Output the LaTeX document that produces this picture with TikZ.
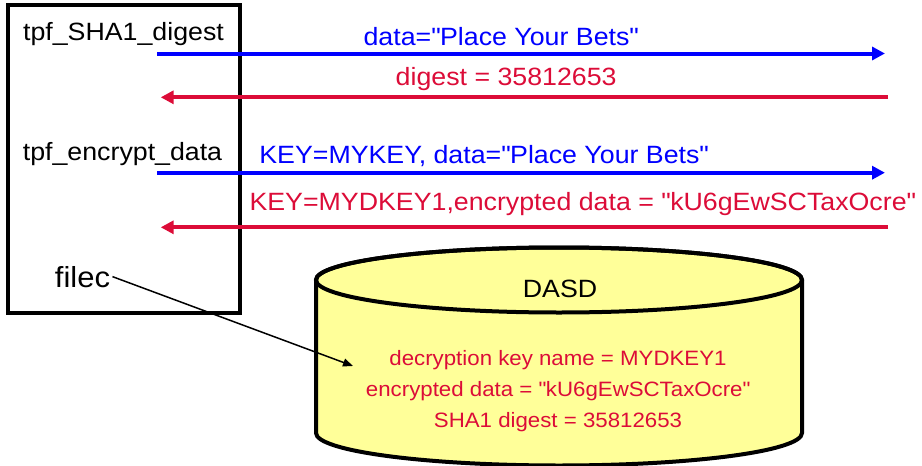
\documentclass[tikz,border=0pt]{standalone}
\usepackage{fontspec}
\setmainfont[FakeStretch=1.07]{Liberation Sans}
\usetikzlibrary{arrows.meta}
\definecolor{callblue}{RGB}{0,0,255}
\definecolor{backred}{RGB}{220,12,56}
\definecolor{dasdyellow}{RGB}{255,255,153}
\newcommand{\lblsize}{\fontsize{12.5}{15}\selectfont}
\newcommand{\dq}{\textquotedbl}

\begin{document}
\begin{tikzpicture}[x=0.5pt,y=-0.5pt,>={Triangle[length=6.5pt,width=6.5pt]}]
	\useasboundingbox (0,0) rectangle (922,466);

	% program box
	\node (prog) [draw,line width=2pt,minimum width=116pt,minimum height=154pt] at (123.7,159) {};
	\begin{scope}[every node/.style={anchor=base,font=\lblsize}]
		\node (sha) at (123.5,40) {tpf\_SHA1\_digest};
		\node (encr) at (122.5,160) {tpf\_encrypt\_data};
		\node (filec) at (82.5,287) [font=\fontsize{14.5}{17}\selectfont,inner sep=1pt] {filec};
	\end{scope}

	% DASD cylinder
	\filldraw [fill=dasdyellow,line width=2pt] (316,280) -- (316,433) arc [start angle=180,end angle=0,x radius=243,y radius=32.5] -- (802,280) arc [start angle=0,end angle=-180,x radius=243,y radius=32.5] -- cycle;
	\draw [line width=2pt] (559,280) ellipse [x radius=243,y radius=32.5];
	\node (dasd) [anchor=base,font=\lblsize] at (560,297) {DASD};
	\node (rec) [align=center,text=backred,font=\fontsize{10.4}{15.5}\selectfont] at (558,391) {decryption key name = MYDKEY1\\encrypted data = \dq kU6gEwSCTaxOcre\dq\\SHA1 digest = 35812653};

	% arrow ends
	\coordinate (c1a) at (157,53.5);
	\coordinate (c1b) at (885,53.5);
	\coordinate (r1a) at (888,97.3);
	\coordinate (r1b) at (160.7,97.3);
	\coordinate (c2a) at (157,172.7);
	\coordinate (c2b) at (885,172.7);
	\coordinate (r2a) at (888,227.3);
	\coordinate (r2b) at (160.7,227.3);
	\coordinate (fileptr) at (353,366);

	\begin{scope}[every edge/.style={draw,line width=2pt},every node/.style={anchor=base,font=\lblsize}]
		\path [->] (c1a) edge [draw=callblue] node [pos=0.4725,yshift=3.75pt,text=callblue] {data=\dq Place Your Bets\dq} (c1b);
		\path [->] (r1a) edge [draw=backred] node [pos=0.525,yshift=6pt,text=backred] {digest = 35812653} (r1b);
		\path [->] (c2a) edge [draw=callblue] node [pos=0.449,yshift=4.7pt,text=callblue] {KEY=MYKEY, data=\dq Place Your Bets\dq} (c2b);
		\path [->] (r2a) edge [draw=backred] node [pos=0.42,yshift=8.5pt,text=backred] {KEY=MYDKEY1,encrypted data = \dq kU6gEwSCTaxOcre\dq} (r2b);
	\end{scope}
	\path [->] (filec.east) edge [line width=0.75pt,>={Triangle[length=5pt,width=4pt]}] (fileptr);
\end{tikzpicture}
\end{document}
